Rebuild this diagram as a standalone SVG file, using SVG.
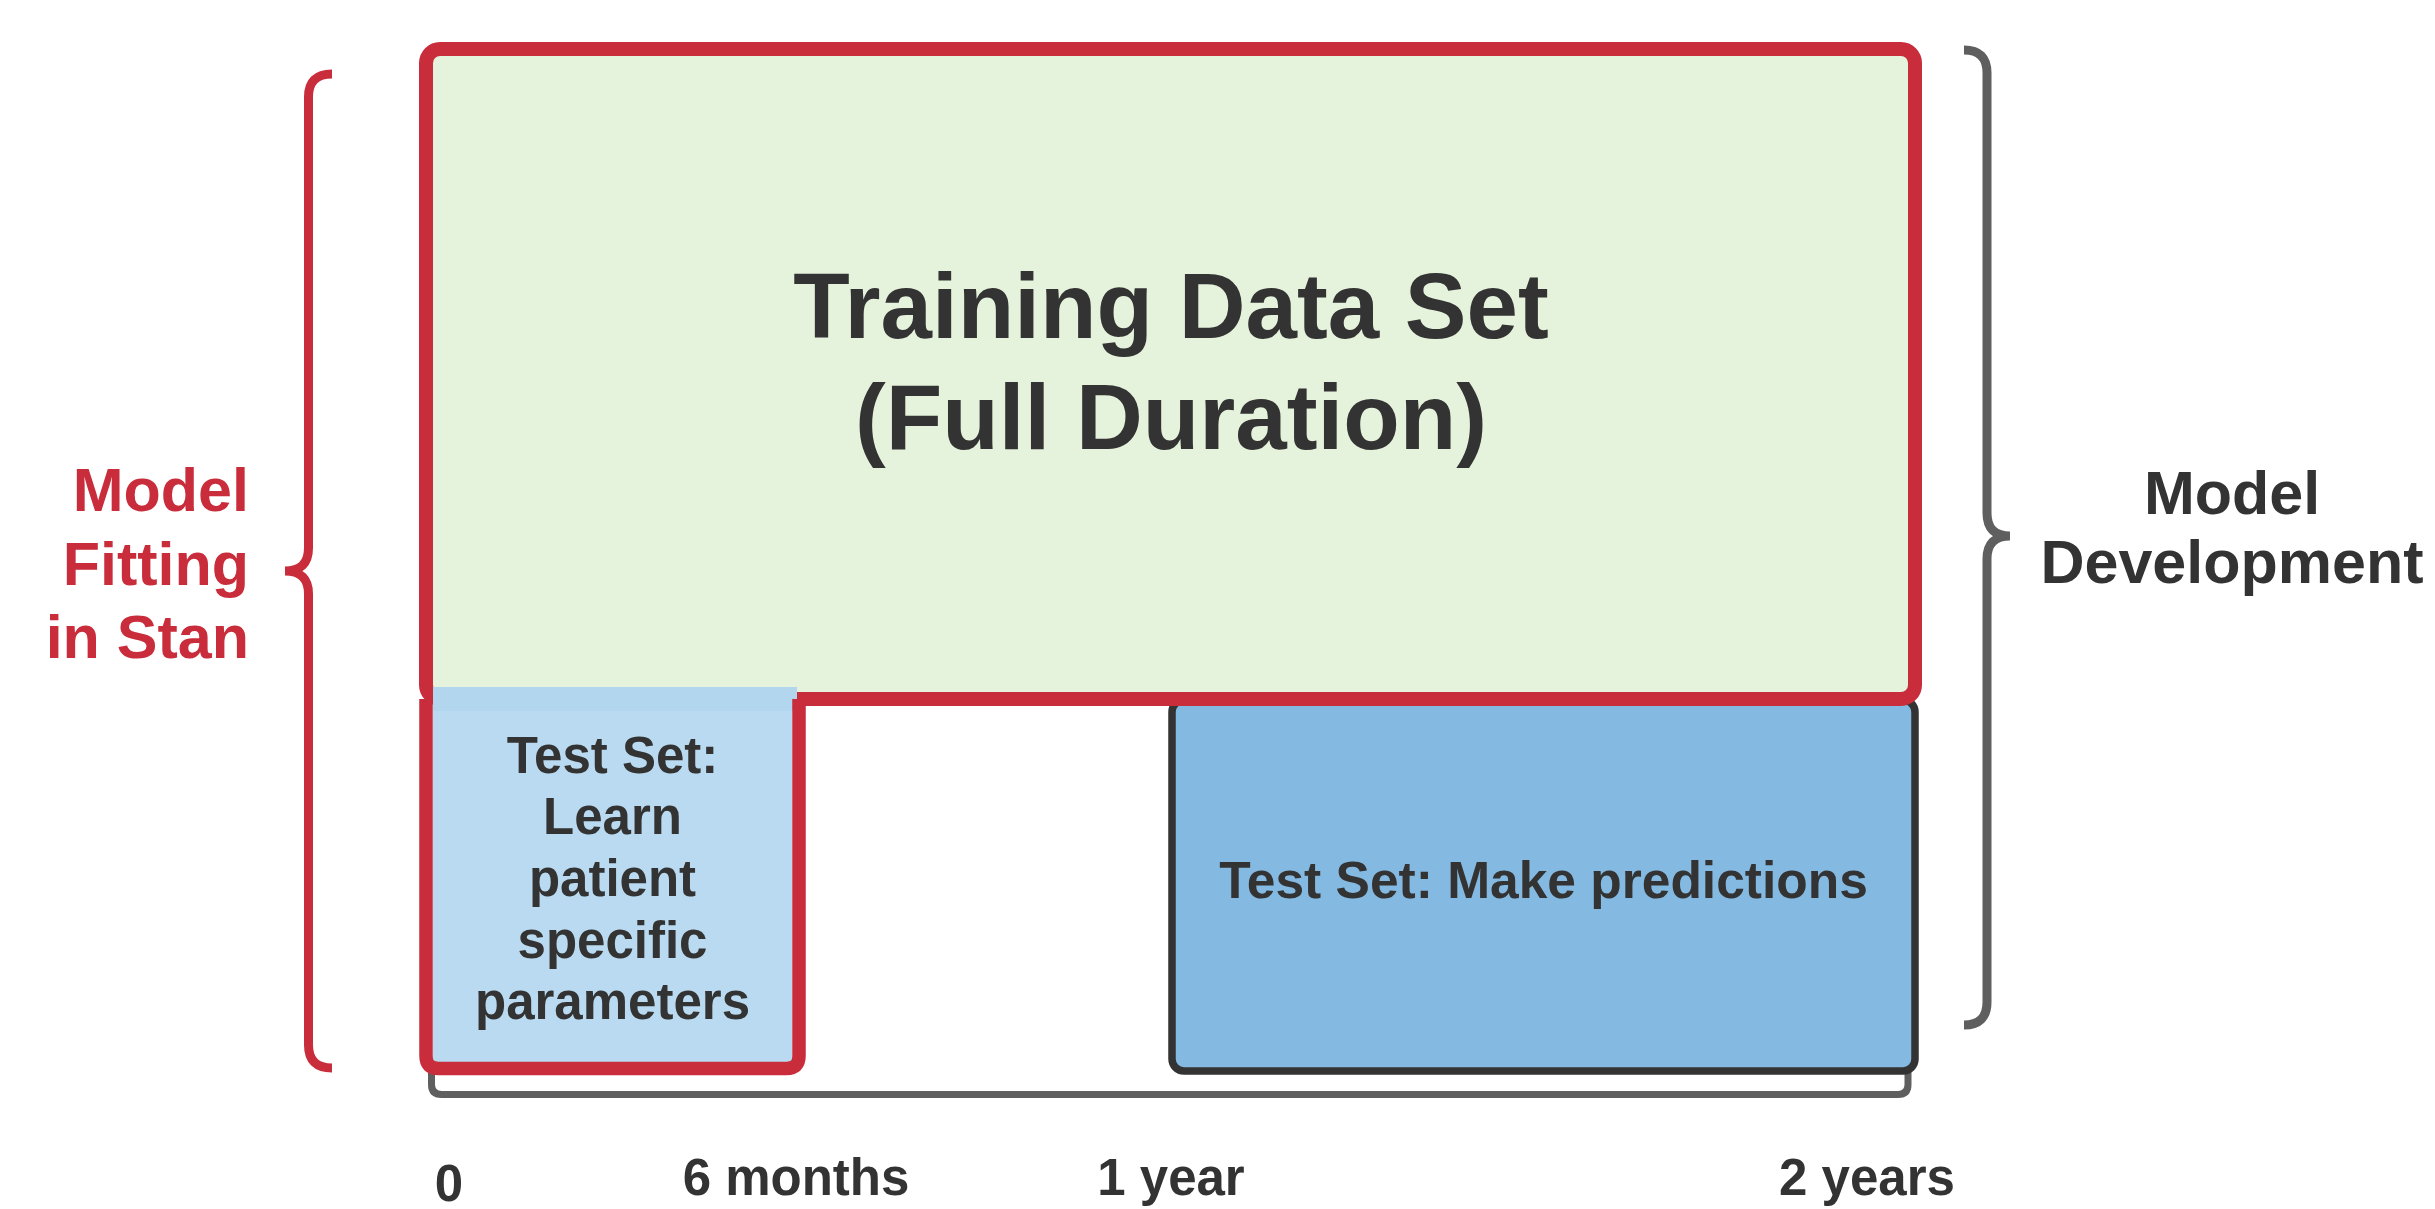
<svg xmlns="http://www.w3.org/2000/svg" width="2435" height="1209" viewBox="0 0 2435 1209">
  <style>
    text { font-family: "Liberation Sans", Arial, sans-serif; font-weight: bold; fill: #333333; text-anchor: middle; }
    .big { font-size: 92.5px; }
    .mid { font-size: 51px; }
    .wide { font-size: 51.5px; }
    .side { font-size: 61px; }
    .red-text { fill: #c92c3a; text-anchor: end; }
    .brace { fill: none; stroke-width: 9; stroke-linecap: butt; }
  </style>

  <rect width="2435" height="1209" fill="#ffffff"/>

  <!-- timeline bracket behind the boxes -->
  <g id="timeline">
    <path d="M431.5,1060 V1084.5 Q431.5,1094.5 441.5,1094.5 H1898 Q1908,1094.5 1908,1084.5 V1060" fill="none" stroke="#5f5f5f" stroke-width="7"/>
  </g>

  <!-- prediction test set -->
  <g id="test-predict">
    <rect x="1172" y="700" width="743" height="371" rx="12" fill="#84b9e2" stroke="#333333" stroke-width="7.5"/>
    <text class="wide" x="1543.5" y="898">Test Set: Make predictions</text>
  </g>

  <!-- training data set -->
  <g id="training">
    <rect x="426" y="49" width="1489" height="650" rx="14" fill="#e6f3dc" stroke="#c92c3a" stroke-width="14"/>
    <text class="big" x="1171" y="338">Training Data Set</text>
    <text class="big" x="1171" y="449">(Full Duration)</text>
  </g>

  <!-- learning test set -->
  <g id="test-learn">
    <rect x="433" y="711" width="359" height="351" fill="#b9daf0"/>
    <rect x="433" y="687" width="364" height="24" fill="#b3d6ef"/>
    <path d="M799,699 V1056 Q799,1068.5 786.5,1068.5 H438.5 Q426,1068.5 426,1056 V699" fill="none" stroke="#c92c3a" stroke-width="13.5"/>
    <text class="mid" x="612.5" y="773">Test Set:</text>
    <text class="mid" x="612.5" y="834">Learn</text>
    <text class="mid" x="612.5" y="896">patient</text>
    <text class="mid" x="612.5" y="958">specific</text>
    <text class="mid" x="612.5" y="1019">parameters</text>
  </g>

  <!-- braces -->
  <g id="connectors">
    <path class="brace" stroke="#c92c3a" d="M332,74 Q308.5,74 308.5,97 V548 Q308.5,571 285,571 Q308.5,571 308.5,594 V1045 Q308.5,1068 332,1068"/>
    <path class="brace" stroke="#5f5f5f" stroke-width="8" d="M1964,50 Q1987,50 1987,73 V513 Q1987,536 2010,536 Q1987,536 1987,559 V1002 Q1987,1025 1964,1025"/>
  </g>

  <g id="label-fitting">
    <text class="side red-text" x="249" y="511">Model</text>
    <text class="side red-text" x="249" y="585">Fitting</text>
    <text class="side red-text" x="249" y="658">in Stan</text>
  </g>

  <g id="label-development">
    <text class="side" x="2232" y="514">Model</text>
    <text class="side" x="2232" y="583">Development</text>
  </g>

  <!-- time axis labels -->
  <g id="axis-labels">
    <text class="mid" x="449" y="1201">0</text>
    <text class="mid" x="796" y="1195">6 months</text>
    <text class="mid" x="1171" y="1195">1 year</text>
    <text class="mid" x="1867" y="1195">2 years</text>
  </g>
</svg>
